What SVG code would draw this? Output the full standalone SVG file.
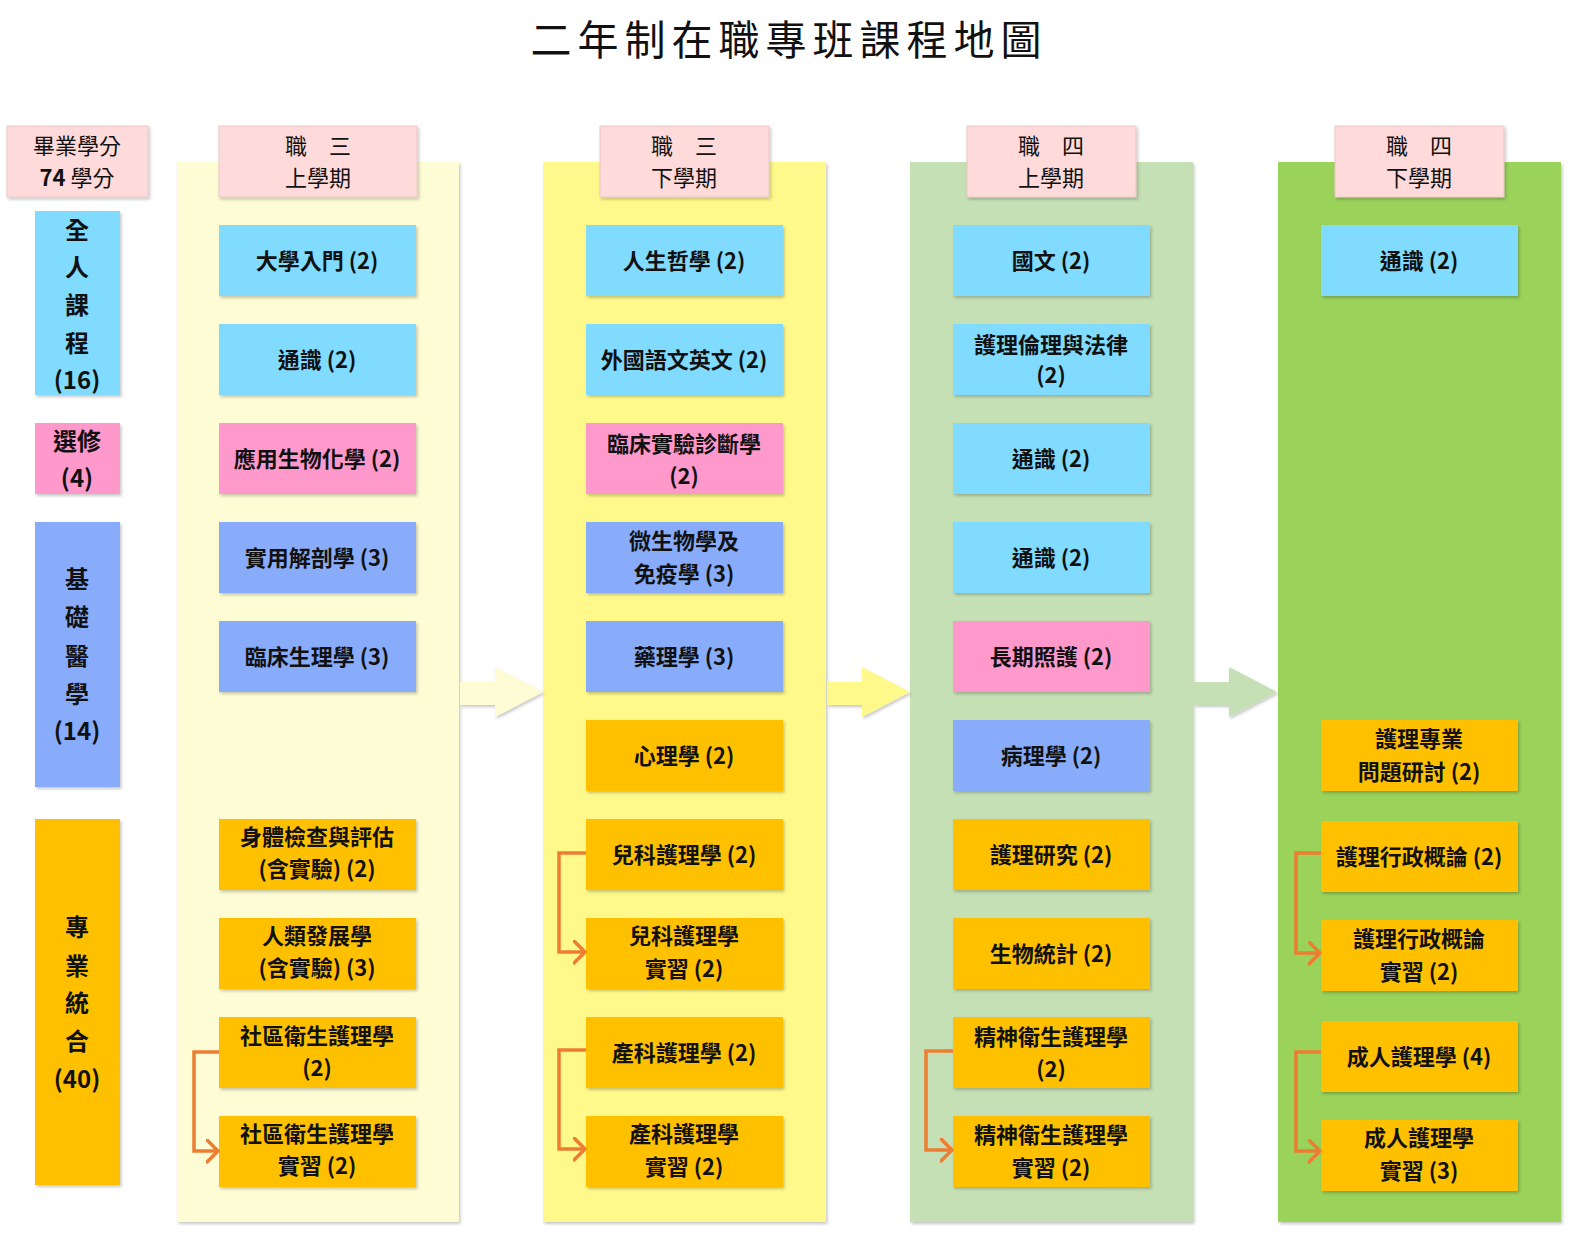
<svg xmlns="http://www.w3.org/2000/svg" width="1572" height="1234" viewBox="0 0 1572 1234">
<defs>
<filter id="sh" x="-10%" y="-10%" width="130%" height="130%">
<feDropShadow dx="1.5" dy="2" stdDeviation="1.5" flood-color="#000" flood-opacity="0.22"/>
</filter>
<marker id="chev" markerUnits="userSpaceOnUse" markerWidth="16" markerHeight="26" refX="12" refY="12" orient="auto">
<path d="M1,1 L12,12 L1,23" fill="none" stroke="#ED7D31" stroke-width="3.5" stroke-linecap="round" stroke-linejoin="round"/>
</marker>
</defs>
<style>
text{font-family:"Noto Sans CJK TC","Noto Sans CJK SC",sans-serif;fill:#111;text-anchor:middle;dominant-baseline:central}
.t{font-size:22px;font-weight:700}
.h{font-size:22px;font-weight:400}
.v{font-size:24px;font-weight:700}
.title{font-size:41px;font-weight:400;letter-spacing:6px}
.bg{filter:url(#sh)}
.n{filter:url(#sh)}
.lb{fill:#80DBFF}
.pk{fill:#FF99CC}
.bl{fill:#88ACFA}
.or{fill:#FFC000}
.hd{fill:#FFDADA;stroke:#E9C8C8;stroke-width:1}
.cn{fill:none;stroke:#ED7D31;stroke-width:3.5;stroke-linejoin:miter}
</style>
<rect width="1572" height="1234" fill="#fff"/>
<text class="title" x="789" y="37">二年制在職專班課程地圖</text>

<!-- column backgrounds -->
<g id="columns">
<rect class="bg" x="177" y="162" width="282" height="1060" fill="#FEFCD5"/>
<rect class="bg" x="543" y="162" width="283" height="1060" fill="#FFF98C"/>
<rect class="bg" x="910" y="162" width="283" height="1060" fill="#C5E0B4"/>
<rect class="bg" x="1278" y="162" width="283" height="1060" fill="#9AD25A"/>
</g>

<!-- block arrows -->
<g id="flow-arrows">
<polygon class="bg" points="460,682 495,682 495,667 543,692 495,717 495,705 460,705" fill="#FEFCD5"/>
<polygon class="bg" points="827,682 862,682 862,667 910,692 862,717 862,705 827,705" fill="#FFF98C"/>
<polygon class="bg" points="1194,682 1229,682 1229,667 1277,692 1229,717 1229,705 1194,705" fill="#C5E0B4"/>
</g>

<!-- left legend -->
<g id="credits"><rect class="hd n" x="7" y="126" width="141" height="71"/><text class="h" x="77" y="144">畢業學分</text><text class="h" x="77" y="176"><tspan font-weight="700">74</tspan> 學分</text></g>
<g id="cat-general"><rect class="lb n" x="35" y="211" width="85" height="184"/>
<text class="v" x="77" y="228">全</text><text class="v" x="77" y="265">人</text><text class="v" x="77" y="303">課</text><text class="v" x="77" y="341">程</text><text class="v" x="77" y="378">(16)</text></g>
<g id="cat-elective"><rect class="pk n" x="35" y="423" width="85" height="71"/>
<text class="v" x="77" y="439">選修</text><text class="v" x="77" y="476">(4)</text></g>
<g id="cat-basic"><rect class="bl n" x="35" y="522" width="85" height="265"/>
<text class="v" x="77" y="577">基</text><text class="v" x="77" y="615">礎</text><text class="v" x="77" y="654">醫</text><text class="v" x="77" y="692">學</text><text class="v" x="77" y="729">(14)</text></g>
<g id="cat-pro"><rect class="or n" x="35" y="819" width="85" height="366"/>
<text class="v" x="77" y="925">專</text><text class="v" x="77" y="964">業</text><text class="v" x="77" y="1001">統</text><text class="v" x="77" y="1039">合</text><text class="v" x="77" y="1077">(40)</text></g>

<!-- headers -->
<g id="hdr1"><rect class="hd n" x="219" y="126" width="198" height="71"/><text class="h" x="318" y="144">職　三</text><text class="h" x="318" y="176">上學期</text></g>
<g id="hdr2"><rect class="hd n" x="600" y="126" width="169" height="71"/><text class="h" x="684" y="144">職　三</text><text class="h" x="684" y="176">下學期</text></g>
<g id="hdr3"><rect class="hd n" x="967" y="126" width="169" height="71"/><text class="h" x="1051" y="144">職　四</text><text class="h" x="1051" y="176">上學期</text></g>
<g id="hdr4"><rect class="hd n" x="1335" y="126" width="169" height="71"/><text class="h" x="1419" y="144">職　四</text><text class="h" x="1419" y="176">下學期</text></g>

<!-- column 1 -->
<g id="c1n1"><rect class="lb n" x="219" y="225" width="197" height="71"/><text class="t" x="317" y="259">大學入門 (2)</text></g>
<g id="c1n2"><rect class="lb n" x="219" y="324" width="197" height="71"/><text class="t" x="317" y="358">通識 (2)</text></g>
<g id="c1n3"><rect class="pk n" x="219" y="423" width="197" height="71"/><text class="t" x="317" y="457">應用生物化學 (2)</text></g>
<g id="c1n4"><rect class="bl n" x="219" y="522" width="197" height="71"/><text class="t" x="317" y="556">實用解剖學 (3)</text></g>
<g id="c1n5"><rect class="bl n" x="219" y="621" width="197" height="71"/><text class="t" x="317" y="655">臨床生理學 (3)</text></g>
<g id="c1n6"><rect class="or n" x="219" y="819" width="197" height="71"/><text class="t" x="317" y="835">身體檢查與評估</text><text class="t" x="317" y="867">(含實驗) (2)</text></g>
<g id="c1n7"><rect class="or n" x="219" y="918" width="197" height="71"/><text class="t" x="317" y="934">人類發展學</text><text class="t" x="317" y="966">(含實驗) (3)</text></g>
<g id="c1n8"><rect class="or n" x="219" y="1017" width="197" height="71"/><text class="t" x="317" y="1034">社區衛生護理學</text><text class="t" x="317" y="1066">(2)</text></g>
<g id="c1n9"><rect class="or n" x="219" y="1116" width="197" height="71"/><text class="t" x="317" y="1132">社區衛生護理學</text><text class="t" x="317" y="1164">實習 (2)</text></g>

<!-- column 2 -->
<g id="c2n1"><rect class="lb n" x="586" y="225" width="197" height="71"/><text class="t" x="684" y="259">人生哲學 (2)</text></g>
<g id="c2n2"><rect class="lb n" x="586" y="324" width="197" height="71"/><text class="t" x="684" y="358">外國語文英文 (2)</text></g>
<g id="c2n3"><rect class="pk n" x="586" y="423" width="197" height="71"/><text class="t" x="684" y="442">臨床實驗診斷學</text><text class="t" x="684" y="474">(2)</text></g>
<g id="c2n4"><rect class="bl n" x="586" y="522" width="197" height="71"/><text class="t" x="684" y="539">微生物學及</text><text class="t" x="684" y="572">免疫學 (3)</text></g>
<g id="c2n5"><rect class="bl n" x="586" y="621" width="197" height="71"/><text class="t" x="684" y="655">藥理學 (3)</text></g>
<g id="c2n6"><rect class="or n" x="586" y="720" width="197" height="71"/><text class="t" x="684" y="754">心理學 (2)</text></g>
<g id="c2n7"><rect class="or n" x="586" y="819" width="197" height="71"/><text class="t" x="684" y="853">兒科護理學 (2)</text></g>
<g id="c2n8"><rect class="or n" x="586" y="918" width="197" height="71"/><text class="t" x="684" y="934">兒科護理學</text><text class="t" x="684" y="967">實習 (2)</text></g>
<g id="c2n9"><rect class="or n" x="586" y="1017" width="197" height="71"/><text class="t" x="684" y="1051">產科護理學 (2)</text></g>
<g id="c2n10"><rect class="or n" x="586" y="1116" width="197" height="71"/><text class="t" x="684" y="1132">產科護理學</text><text class="t" x="684" y="1165">實習 (2)</text></g>

<!-- column 3 -->
<g id="c3n1"><rect class="lb n" x="953" y="225" width="197" height="71"/><text class="t" x="1051" y="259">國文 (2)</text></g>
<g id="c3n2"><rect class="lb n" x="953" y="324" width="197" height="71"/><text class="t" x="1051" y="343">護理倫理與法律</text><text class="t" x="1051" y="373">(2)</text></g>
<g id="c3n3"><rect class="lb n" x="953" y="423" width="197" height="71"/><text class="t" x="1051" y="457">通識 (2)</text></g>
<g id="c3n4"><rect class="lb n" x="953" y="522" width="197" height="71"/><text class="t" x="1051" y="556">通識 (2)</text></g>
<g id="c3n5"><rect class="pk n" x="953" y="621" width="197" height="71"/><text class="t" x="1051" y="655">長期照護 (2)</text></g>
<g id="c3n6"><rect class="bl n" x="953" y="720" width="197" height="71"/><text class="t" x="1051" y="754">病理學 (2)</text></g>
<g id="c3n7"><rect class="or n" x="953" y="819" width="197" height="71"/><text class="t" x="1051" y="853">護理研究 (2)</text></g>
<g id="c3n8"><rect class="or n" x="953" y="918" width="197" height="71"/><text class="t" x="1051" y="952">生物統計 (2)</text></g>
<g id="c3n9"><rect class="or n" x="953" y="1017" width="197" height="71"/><text class="t" x="1051" y="1035">精神衛生護理學</text><text class="t" x="1051" y="1067">(2)</text></g>
<g id="c3n10"><rect class="or n" x="953" y="1116" width="197" height="71"/><text class="t" x="1051" y="1133">精神衛生護理學</text><text class="t" x="1051" y="1166">實習 (2)</text></g>

<!-- column 4 -->
<g id="c4n1"><rect class="lb n" x="1321" y="225" width="197" height="71"/><text class="t" x="1419" y="259">通識 (2)</text></g>
<g id="c4n2"><rect class="or n" x="1321" y="720" width="197" height="71"/><text class="t" x="1419" y="737">護理專業</text><text class="t" x="1419" y="770">問題研討 (2)</text></g>
<g id="c4n3"><rect class="or n" x="1321" y="821" width="197" height="71"/><text class="t" x="1419" y="855">護理行政概論 (2)</text></g>
<g id="c4n4"><rect class="or n" x="1321" y="920" width="197" height="71"/><text class="t" x="1419" y="937">護理行政概論</text><text class="t" x="1419" y="970">實習 (2)</text></g>
<g id="c4n5"><rect class="or n" x="1321" y="1021" width="197" height="71"/><text class="t" x="1419" y="1055">成人護理學 (4)</text></g>
<g id="c4n6"><rect class="or n" x="1321" y="1120" width="197" height="71"/><text class="t" x="1419" y="1136">成人護理學</text><text class="t" x="1419" y="1169">實習 (3)</text></g>

<!-- connectors -->
<g id="connectors">
<path class="cn" d="M219,1052 H194 V1151 H218" marker-end="url(#chev)"/>
<path class="cn" d="M586,853 H559 V952 H585" marker-end="url(#chev)"/>
<path class="cn" d="M586,1050 H559 V1149 H585" marker-end="url(#chev)"/>
<path class="cn" d="M953,1051 H926 V1150 H952" marker-end="url(#chev)"/>
<path class="cn" d="M1321,853 H1296 V953 H1320" marker-end="url(#chev)"/>
<path class="cn" d="M1321,1052 H1296 V1151 H1320" marker-end="url(#chev)"/>
</g>
</svg>
